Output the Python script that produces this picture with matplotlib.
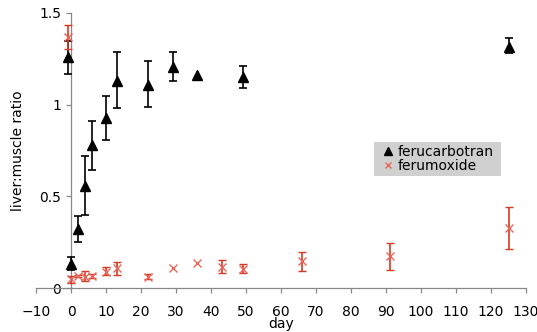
import numpy as np
import matplotlib
matplotlib.use("Agg")
import matplotlib.pyplot as plt
from matplotlib.patches import Rectangle

# ferucarbotran (black triangles)
carb_day = [-1, 0, 2, 4, 6, 10, 13, 22, 29, 36, 49, 125]
carb_val = [1.26, 0.13, 0.32, 0.555, 0.78, 0.925, 1.13, 1.105, 1.205, 1.16, 1.15, 1.315]
carb_lo  = [1.17, 0.10, 0.25, 0.40, 0.645, 0.81, 0.98, 0.985, 1.13, 1.16, 1.09, 1.282]
carb_hi  = [1.35, 0.17, 0.395, 0.72, 0.91, 1.05, 1.285, 1.24, 1.29, 1.16, 1.213, 1.365]

# ferumoxide (red crosses)
ferm_day = [-1, 0, 2, 4, 6, 10, 13, 22, 29, 36, 43, 49, 66, 91, 125]
ferm_val = [1.37, 0.05, 0.067, 0.062, 0.064, 0.089, 0.11, 0.062, 0.111, 0.135, 0.115, 0.106, 0.145, 0.172, 0.327]
ferm_lo  = [1.305, 0.03, 0.062, 0.04, 0.053, 0.07, 0.071, 0.047, 0.111, 0.135, 0.08, 0.084, 0.095, 0.097, 0.213]
ferm_hi  = [1.433, 0.067, 0.072, 0.093, 0.075, 0.113, 0.144, 0.079, 0.111, 0.135, 0.153, 0.129, 0.198, 0.246, 0.443]

xticks = list(range(-10, 131, 10))
yticks = [0, 0.5, 1, 1.5]
ytick_labels = ["0", "0.5", "1", "1.5"]

plt.rcParams["font.family"] = ["DejaVu Sans"]
plt.rcParams["font.size"] = 10

W, H = 537, 332
fig = plt.figure(figsize=(W / 100, H / 100), dpi=100)
ax = fig.add_axes([36 / W, 1 - 288 / H, 490 / W, 275 / H])


def yerr(val, lo, hi):
    v = np.array(val)
    lo_e = v - np.array(lo)
    hi_e = np.array(hi) - v
    # points without a measured spread get no bar
    none = (lo_e == 0) & (hi_e == 0)
    lo_e[none] = np.nan
    hi_e[none] = np.nan
    return [lo_e, hi_e]


ax.errorbar(carb_day, carb_val, yerr=yerr(carb_val, carb_lo, carb_hi),
            fmt="^", color="black", ms=6.5, ecolor="black", elinewidth=1.2,
            capsize=3, capthick=1.2, label="ferucarbotran", zorder=3)
ax.errorbar(ferm_day, ferm_val, yerr=yerr(ferm_val, ferm_lo, ferm_hi),
            fmt="x", color="#e8665a", ms=5.5, mew=1.0, ecolor="#d63a22",
            elinewidth=1.2, capsize=3, capthick=1.4, label="ferumoxide", zorder=3)

ax.set_xlim(-10, 130)
ax.set_ylim(0, 1.5)
ax.set_xticks(xticks)
ax.set_yticks(yticks)
ax.set_yticklabels(ytick_labels)

ax.spines["top"].set_visible(False)
ax.spines["right"].set_visible(False)
ax.spines["left"].set_position(("data", 0))
for s in ("left", "bottom"):
    ax.spines[s].set_color("#888888")
    ax.spines[s].set_linewidth(0.9)
ax.tick_params(axis="both", direction="out", length=3.5, color="#888888", width=0.9)
ax.tick_params(axis="x", pad=8.5)

ax.set_xlabel("day", labelpad=-1)
ax.set_ylabel("liver:muscle ratio")
ax.yaxis.set_label_coords(-0.022, 0.5)

# legend: grey box without border
ax.add_patch(Rectangle((374 / W, 1 - 176 / H), 127 / W, 34 / H,
                       transform=fig.transFigure, facecolor="#d0d0d0",
                       edgecolor="none", clip_on=False, zorder=4))
handles, labels = ax.get_legend_handles_labels()
handles = [h[0] for h in handles]
leg = ax.legend(handles, labels, loc="upper left",
                bbox_to_anchor=(381 / W, 1 - 144.5 / H),
                bbox_transform=fig.transFigure,
                frameon=False, handlelength=1.0, handletextpad=0.2,
                borderpad=0, labelspacing=0.0, borderaxespad=0, markerscale=0.85)
leg.set_zorder(5)

fig.savefig("out.png", dpi=100)
